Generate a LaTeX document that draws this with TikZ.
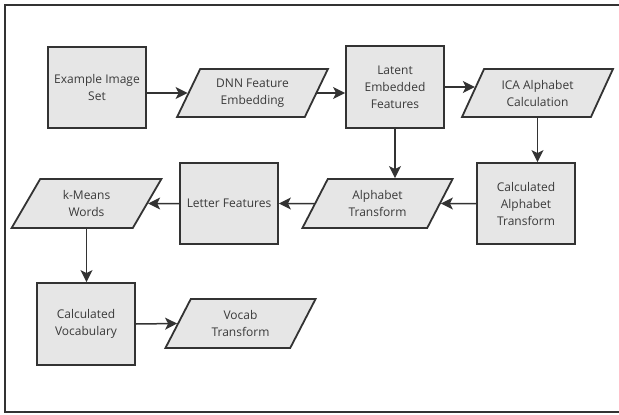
\documentclass[tikz,border=0pt]{standalone}
\usepackage{fontspec}
\setmainfont{Open Sans}
\usetikzlibrary{shapes.geometric,arrows.meta}
\definecolor{edgec}{HTML}{333333}
\definecolor{fillc}{HTML}{E6E6E6}
\definecolor{textc}{HTML}{3A3A3A}
\tikzset{
  boxnode/.style={draw=edgec, fill=fillc, line width=1.8pt, rectangle, minimum width=98pt, minimum height=81pt, align=center, text=textc, inner sep=2pt, font=\fontsize{12}{17}\selectfont},
  paranode/.style={draw=edgec, fill=fillc, line width=1.8pt, trapezium, trapezium left angle=61.6, trapezium right angle=118.4, trapezium stretches=true, minimum width=151pt, minimum height=48pt, align=center, text=textc, inner sep=1pt, font=\fontsize{12}{17}\selectfont},
  arr/.style={draw=edgec, line width=1.5pt, -{Stealth[length=12pt,width=12pt,inset=3pt]}}
}
\begin{document}
\begin{tikzpicture}[x=1pt,y=-1pt]
\useasboundingbox (0,0) rectangle (619,415);
\draw[edgec, line width=1.5pt] (630,5) -- (5,5) -- (5,412) -- (630,412);
\node[boxnode] (ex) at (97,87.5) {Example Image\\Set};
\node[paranode] (dnn) at (252.5,93) {DNN Feature\\Embedding};
\node[boxnode, minimum height=82pt] (lat) at (395,87) {Latent\\Embedded\\Features};
\node[paranode] (ica) at (537.5,93) {ICA Alphabet\\Calculation};
\node[boxnode] (lf) at (229,203.5) {Letter Features};
\node[paranode, minimum height=49pt] (km) at (86.5,203.5) {k-Means\\Words};
\node[paranode, minimum height=49pt] (at) at (377.5,203.5) {Alphabet\\Transform};
\node[boxnode] (cat) at (526,203.5) {Calculated\\Alphabet\\Transform};
\node[boxnode, minimum height=82pt] (cv) at (86,324) {Calculated\\Vocabulary};
\node[paranode, minimum height=49pt] (vt) at (240.5,323.5) {Vocab\\Transform};
\coordinate (latR) at ([xshift=20pt]lat.east);
\draw[arr] (ex.east |- dnn.west) -- (dnn.west);
\draw[arr] (dnn.east) -- (dnn.east -| lat.west);
\draw[arr] (lat.east) -- (intersection of lat.east--latR and ica.bottom left corner--ica.top left corner);
\draw[arr] (lat.south) -- (lat.south |- at.north);
\draw[arr] (ica.south) -- (ica.south |- cat.north);
\draw[arr] (cat.west) -- (at.east);
\draw[arr] (at.west) -- (lf.east);
\draw[arr] (lf.west) -- (km.east);
\draw[arr] (km.south) -- (km.south |- cv.north);
\draw[arr] (cv.east) -- (vt.west);
\end{tikzpicture}
\end{document}
